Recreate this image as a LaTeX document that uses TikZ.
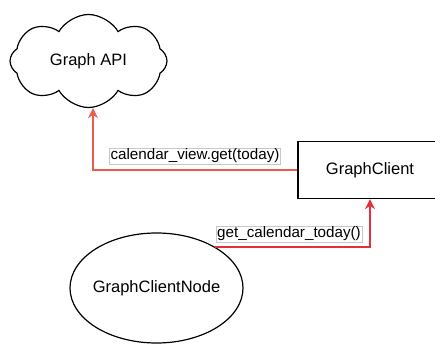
\documentclass[tikz,border=0pt]{standalone}
\usepackage{fontspec}
\setmainfont{Liberation Sans}
\usetikzlibrary{shapes.geometric, shapes.symbols, arrows.meta}

\definecolor{callred}{HTML}{EC5A50}
\definecolor{askred}{HTML}{E5303C}
\definecolor{tagline}{HTML}{C8C8C8}

\tikzset{
  box/.style={draw, line width=1.2pt, font=\fontsize{16.5}{20}\selectfont},
  tag/.style={draw=tagline, line width=0.6pt, fill=white, inner sep=1pt,
    font=\fontsize{15.2}{18}\selectfont},
  flow/.style={line width=2pt, -{Stealth[length=10pt, width=10pt]}}
}

\begin{document}
\begin{tikzpicture}[x=1pt, y=-1pt]
  \useasboundingbox (0,0) rectangle (435,344);
  \node[box, cloud, cloud puffs=8, cloud puff arc=120, cloud ignores aspect,
    minimum width=157pt, minimum height=93pt] (api) at (88.5,61) {Graph API};
  \node[box, rectangle, minimum width=144pt, minimum height=57pt] (client) at (370,170) {GraphClient};
  \node[box, ellipse, inner xsep=-12pt, minimum width=173pt, minimum height=110pt] (gcnode) at (156.5,288) {GraphClientNode};
  \draw[flow, callred] (client.west) -| ([xshift=4.5pt]api.south);
  \draw[flow, askred] (gcnode.35) -| (client.south);
  \node[tag] (viewlabel) at (195,156) {calendar\_view.get(today)};
  \node[tag] (todaylabel) at (289,234) {get\_calendar\_today()};
\end{tikzpicture}
\end{document}
